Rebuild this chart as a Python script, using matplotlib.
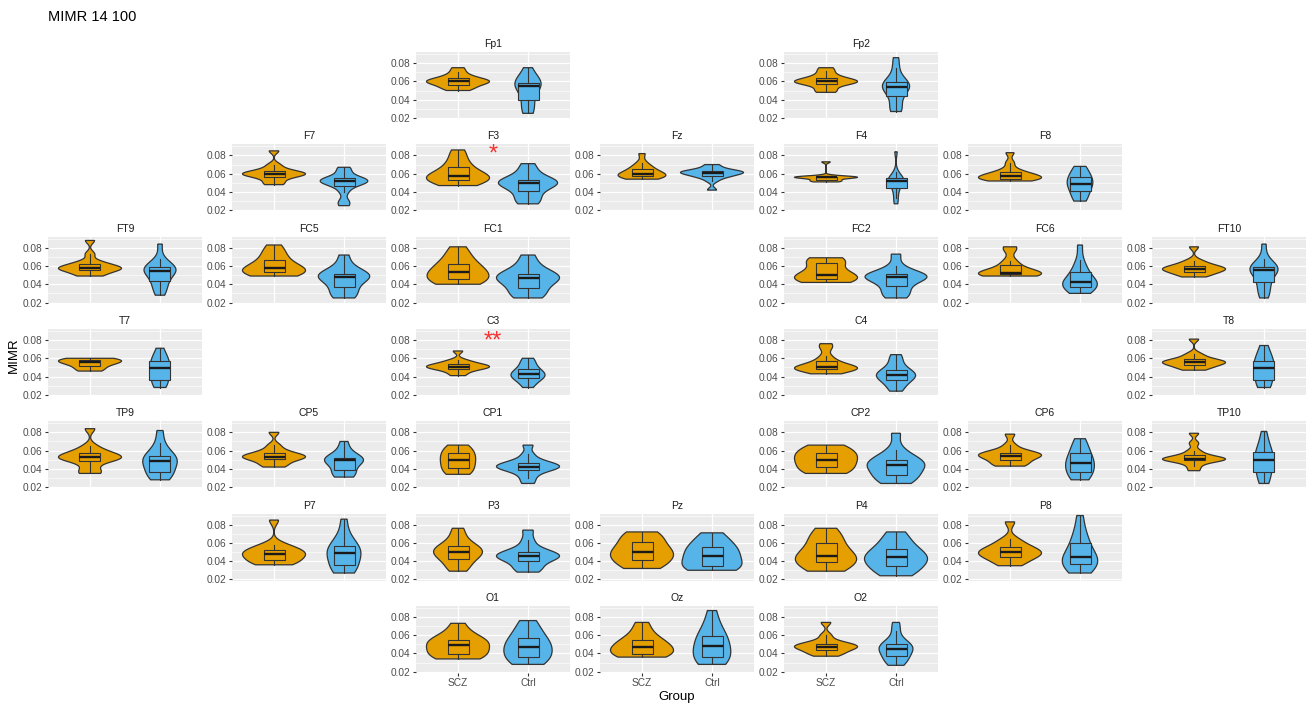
import numpy as np
import matplotlib
matplotlib.use('Agg')
import matplotlib.pyplot as plt

plt.rcParams['font.family'] = ['Liberation Sans', 'DejaVu Sans']

groups = ['SCZ', 'Ctrl']
colors = ['#E69F00', '#56B4E9']

# MIMR per subject, one list per channel and group
Fp1_scz = [0.050, 0.052, 0.054, 0.056, 0.058, 0.059, 0.060, 0.060, 0.061, 0.062, 0.064, 0.066, 0.070, 0.075]
Fp1_ctrl = [0.025, 0.027, 0.033, 0.038, 0.045, 0.053, 0.055, 0.056, 0.057, 0.058, 0.059, 0.062, 0.068, 0.075]
Fp2_scz = [0.048, 0.050, 0.054, 0.057, 0.058, 0.059, 0.060, 0.060, 0.061, 0.063, 0.064, 0.067, 0.071, 0.075]
Fp2_ctrl = [0.027, 0.029, 0.035, 0.043, 0.047, 0.051, 0.053, 0.055, 0.056, 0.058, 0.060, 0.065, 0.075, 0.086]
F7_scz = [0.048, 0.050, 0.054, 0.056, 0.058, 0.059, 0.059, 0.060, 0.061, 0.062, 0.063, 0.066, 0.070, 0.085]
F7_ctrl = [0.025, 0.030, 0.040, 0.046, 0.048, 0.050, 0.051, 0.052, 0.053, 0.054, 0.055, 0.058, 0.063, 0.067]
F3_scz = [0.047, 0.049, 0.051, 0.053, 0.055, 0.056, 0.057, 0.058, 0.060, 0.064, 0.068, 0.072, 0.079, 0.086]
F3_ctrl = [0.027, 0.030, 0.035, 0.040, 0.044, 0.047, 0.049, 0.050, 0.051, 0.052, 0.054, 0.058, 0.064, 0.071]
Fz_scz = [0.054, 0.055, 0.056, 0.057, 0.058, 0.059, 0.059, 0.060, 0.062, 0.064, 0.066, 0.068, 0.072, 0.082]
Fz_ctrl = [0.042, 0.052, 0.056, 0.057, 0.058, 0.060, 0.061, 0.061, 0.062, 0.062, 0.063, 0.064, 0.067, 0.070]
F4_scz = [0.051, 0.052, 0.052, 0.053, 0.055, 0.056, 0.056, 0.056, 0.056, 0.056, 0.057, 0.057, 0.073]
F4_ctrl = [0.027, 0.033, 0.040, 0.044, 0.048, 0.051, 0.052, 0.053, 0.054, 0.055, 0.056, 0.062, 0.084]
F8_scz = [0.052, 0.053, 0.054, 0.054, 0.055, 0.056, 0.057, 0.058, 0.059, 0.060, 0.062, 0.065, 0.072, 0.083]
F8_ctrl = [0.030, 0.032, 0.036, 0.040, 0.044, 0.047, 0.048, 0.050, 0.053, 0.055, 0.057, 0.061, 0.065, 0.068]
FT9_scz = [0.049, 0.050, 0.053, 0.055, 0.056, 0.057, 0.058, 0.058, 0.059, 0.061, 0.063, 0.065, 0.073, 0.088]
FT9_ctrl = [0.028, 0.033, 0.038, 0.042, 0.046, 0.050, 0.053, 0.054, 0.056, 0.057, 0.058, 0.060, 0.062, 0.068, 0.084]
FC5_scz = [0.049, 0.050, 0.051, 0.053, 0.054, 0.056, 0.057, 0.058, 0.060, 0.064, 0.068, 0.072, 0.077, 0.083]
FC5_ctrl = [0.025, 0.027, 0.031, 0.036, 0.040, 0.045, 0.047, 0.048, 0.050, 0.051, 0.052, 0.054, 0.062, 0.072]
FC1_scz = [0.040, 0.041, 0.043, 0.045, 0.047, 0.050, 0.052, 0.054, 0.057, 0.060, 0.063, 0.068, 0.074, 0.081]
FC1_ctrl = [0.025, 0.027, 0.031, 0.035, 0.040, 0.044, 0.046, 0.047, 0.048, 0.050, 0.052, 0.056, 0.063, 0.072]
FC2_scz = [0.042, 0.043, 0.044, 0.045, 0.047, 0.049, 0.050, 0.051, 0.054, 0.060, 0.064, 0.066, 0.068, 0.069]
FC2_ctrl = [0.025, 0.028, 0.032, 0.037, 0.041, 0.045, 0.047, 0.048, 0.049, 0.050, 0.051, 0.052, 0.060, 0.073]
FC6_scz = [0.049, 0.050, 0.050, 0.051, 0.051, 0.052, 0.052, 0.053, 0.055, 0.058, 0.062, 0.066, 0.078, 0.081]
FC6_ctrl = [0.030, 0.032, 0.035, 0.037, 0.039, 0.041, 0.042, 0.043, 0.045, 0.050, 0.055, 0.058, 0.067, 0.083]
FT10_scz = [0.048, 0.050, 0.052, 0.053, 0.055, 0.056, 0.057, 0.057, 0.058, 0.059, 0.061, 0.063, 0.066, 0.081]
FT10_ctrl = [0.025, 0.030, 0.036, 0.041, 0.046, 0.052, 0.055, 0.056, 0.057, 0.058, 0.059, 0.061, 0.068, 0.084]
T7_scz = [0.046, 0.047, 0.050, 0.052, 0.054, 0.055, 0.056, 0.057, 0.058, 0.059, 0.059, 0.060]
T7_ctrl = [0.028, 0.031, 0.034, 0.036, 0.038, 0.043, 0.048, 0.050, 0.053, 0.055, 0.057, 0.060, 0.065, 0.071]
C3_scz = [0.041, 0.044, 0.047, 0.048, 0.049, 0.050, 0.051, 0.051, 0.052, 0.053, 0.054, 0.056, 0.058, 0.068]
C3_ctrl = [0.028, 0.032, 0.036, 0.038, 0.039, 0.041, 0.042, 0.043, 0.045, 0.047, 0.049, 0.053, 0.057, 0.060]
C4_scz = [0.043, 0.045, 0.047, 0.048, 0.049, 0.049, 0.050, 0.051, 0.052, 0.055, 0.057, 0.062, 0.071, 0.076]
C4_ctrl = [0.024, 0.028, 0.033, 0.035, 0.038, 0.040, 0.041, 0.042, 0.044, 0.046, 0.048, 0.053, 0.059, 0.064]
T8_scz = [0.047, 0.049, 0.051, 0.052, 0.054, 0.055, 0.055, 0.056, 0.057, 0.058, 0.059, 0.062, 0.065, 0.081]
T8_ctrl = [0.028, 0.030, 0.033, 0.035, 0.040, 0.046, 0.049, 0.050, 0.054, 0.056, 0.058, 0.063, 0.069, 0.074]
TP9_scz = [0.035, 0.036, 0.042, 0.048, 0.050, 0.051, 0.052, 0.053, 0.054, 0.056, 0.058, 0.060, 0.065, 0.084]
TP9_ctrl = [0.028, 0.031, 0.034, 0.036, 0.040, 0.045, 0.048, 0.049, 0.051, 0.053, 0.055, 0.060, 0.068, 0.082]
CP5_scz = [0.042, 0.044, 0.047, 0.050, 0.051, 0.052, 0.053, 0.054, 0.055, 0.056, 0.058, 0.061, 0.066, 0.080]
CP5_ctrl = [0.031, 0.033, 0.035, 0.037, 0.043, 0.047, 0.049, 0.050, 0.050, 0.051, 0.052, 0.055, 0.062, 0.070]
CP1_scz = [0.034, 0.035, 0.037, 0.040, 0.043, 0.046, 0.049, 0.050, 0.053, 0.056, 0.058, 0.061, 0.064, 0.066]
CP1_ctrl = [0.024, 0.030, 0.035, 0.038, 0.040, 0.041, 0.042, 0.043, 0.044, 0.046, 0.047, 0.050, 0.056, 0.066]
CP2_scz = [0.035, 0.036, 0.038, 0.041, 0.044, 0.047, 0.049, 0.051, 0.054, 0.056, 0.058, 0.061, 0.064, 0.066]
CP2_ctrl = [0.024, 0.027, 0.030, 0.032, 0.036, 0.040, 0.043, 0.045, 0.046, 0.048, 0.050, 0.054, 0.061, 0.079]
CP6_scz = [0.043, 0.044, 0.046, 0.049, 0.051, 0.053, 0.054, 0.055, 0.056, 0.057, 0.058, 0.060, 0.066, 0.078]
CP6_ctrl = [0.028, 0.030, 0.033, 0.036, 0.040, 0.043, 0.046, 0.047, 0.050, 0.054, 0.058, 0.062, 0.068, 0.073]
TP10_scz = [0.038, 0.043, 0.047, 0.049, 0.050, 0.050, 0.051, 0.051, 0.052, 0.054, 0.056, 0.060, 0.068, 0.079]
TP10_ctrl = [0.024, 0.028, 0.032, 0.035, 0.040, 0.046, 0.049, 0.051, 0.054, 0.057, 0.059, 0.064, 0.072, 0.081]
P7_scz = [0.036, 0.037, 0.039, 0.041, 0.043, 0.046, 0.047, 0.048, 0.050, 0.051, 0.053, 0.056, 0.058, 0.085]
P7_ctrl = [0.027, 0.029, 0.032, 0.034, 0.040, 0.045, 0.048, 0.049, 0.052, 0.055, 0.057, 0.062, 0.070, 0.086]
P3_scz = [0.029, 0.033, 0.038, 0.042, 0.045, 0.047, 0.049, 0.051, 0.053, 0.055, 0.057, 0.061, 0.068, 0.076]
P3_ctrl = [0.028, 0.031, 0.035, 0.039, 0.042, 0.044, 0.045, 0.046, 0.047, 0.049, 0.051, 0.055, 0.063, 0.074]
Pz_scz = [0.032, 0.034, 0.037, 0.041, 0.044, 0.047, 0.049, 0.050, 0.053, 0.057, 0.062, 0.066, 0.069, 0.072]
Pz_ctrl = [0.030, 0.031, 0.032, 0.034, 0.036, 0.040, 0.045, 0.047, 0.050, 0.053, 0.056, 0.060, 0.065, 0.071]
P4_scz = [0.029, 0.031, 0.035, 0.038, 0.041, 0.043, 0.045, 0.046, 0.050, 0.055, 0.061, 0.065, 0.070, 0.076]
P4_ctrl = [0.024, 0.027, 0.031, 0.034, 0.038, 0.041, 0.043, 0.045, 0.047, 0.050, 0.054, 0.059, 0.065, 0.072]
P8_scz = [0.035, 0.038, 0.042, 0.044, 0.046, 0.048, 0.049, 0.050, 0.052, 0.054, 0.056, 0.060, 0.064, 0.083]
P8_ctrl = [0.027, 0.030, 0.034, 0.036, 0.039, 0.041, 0.043, 0.045, 0.049, 0.055, 0.061, 0.066, 0.075, 0.090]
O1_scz = [0.034, 0.035, 0.037, 0.039, 0.041, 0.044, 0.048, 0.050, 0.052, 0.054, 0.055, 0.058, 0.064, 0.073]
O1_ctrl = [0.028, 0.030, 0.033, 0.035, 0.039, 0.043, 0.046, 0.048, 0.051, 0.055, 0.058, 0.063, 0.070, 0.076]
Oz_scz = [0.036, 0.037, 0.038, 0.039, 0.041, 0.044, 0.046, 0.048, 0.050, 0.053, 0.055, 0.059, 0.066, 0.074]
Oz_ctrl = [0.028, 0.030, 0.032, 0.035, 0.038, 0.042, 0.046, 0.050, 0.054, 0.058, 0.060, 0.066, 0.075, 0.087]
O2_scz = [0.037, 0.039, 0.041, 0.043, 0.045, 0.046, 0.047, 0.048, 0.049, 0.050, 0.051, 0.054, 0.060, 0.074]
O2_ctrl = [0.027, 0.030, 0.033, 0.036, 0.039, 0.042, 0.044, 0.046, 0.048, 0.049, 0.051, 0.055, 0.065, 0.074]

data = {
    'Fp1': (Fp1_scz, Fp1_ctrl), 'Fp2': (Fp2_scz, Fp2_ctrl),
    'F7': (F7_scz, F7_ctrl), 'F3': (F3_scz, F3_ctrl), 'Fz': (Fz_scz, Fz_ctrl),
    'F4': (F4_scz, F4_ctrl), 'F8': (F8_scz, F8_ctrl),
    'FT9': (FT9_scz, FT9_ctrl), 'FC5': (FC5_scz, FC5_ctrl), 'FC1': (FC1_scz, FC1_ctrl),
    'FC2': (FC2_scz, FC2_ctrl), 'FC6': (FC6_scz, FC6_ctrl), 'FT10': (FT10_scz, FT10_ctrl),
    'T7': (T7_scz, T7_ctrl), 'C3': (C3_scz, C3_ctrl), 'C4': (C4_scz, C4_ctrl), 'T8': (T8_scz, T8_ctrl),
    'TP9': (TP9_scz, TP9_ctrl), 'CP5': (CP5_scz, CP5_ctrl), 'CP1': (CP1_scz, CP1_ctrl),
    'CP2': (CP2_scz, CP2_ctrl), 'CP6': (CP6_scz, CP6_ctrl), 'TP10': (TP10_scz, TP10_ctrl),
    'P7': (P7_scz, P7_ctrl), 'P3': (P3_scz, P3_ctrl), 'Pz': (Pz_scz, Pz_ctrl),
    'P4': (P4_scz, P4_ctrl), 'P8': (P8_scz, P8_ctrl),
    'O1': (O1_scz, O1_ctrl), 'Oz': (Oz_scz, Oz_ctrl), 'O2': (O2_scz, O2_ctrl),
}

# significance marks (SCZ vs Ctrl)
signif = {'F3': ('*', 0.0815), 'C3': ('**', 0.0785)}

# electrode montage, one row per grid row
montage = [
    [None, None, 'Fp1', None, 'Fp2', None, None],
    [None, 'F7', 'F3', 'Fz', 'F4', 'F8', None],
    ['FT9', 'FC5', 'FC1', None, 'FC2', 'FC6', 'FT10'],
    ['T7', None, 'C3', None, 'C4', None, 'T8'],
    ['TP9', 'CP5', 'CP1', None, 'CP2', 'CP6', 'TP10'],
    [None, 'P7', 'P3', 'Pz', 'P4', 'P8', None],
    [None, None, 'O1', 'Oz', 'O2', None, None],
]


def bw_nrd0(x, adjust=1.15):
    x = np.asarray(x)
    sd = np.std(x, ddof=1)
    iqr = np.subtract(*np.percentile(x, [75, 25]))
    lo = min(sd, iqr / 1.34) if iqr > 0 else sd
    return adjust * 0.9 * lo * len(x) ** -0.2


def kde(x, grid):
    x = np.asarray(x)
    bw = bw_nrd0(x)
    z = (grid[:, None] - x[None, :]) / bw
    return np.exp(-0.5 * z ** 2).sum(axis=1) / (len(x) * bw * np.sqrt(2 * np.pi))


W, H, DPI = 1307, 703, 100
fig = plt.figure(figsize=(W / DPI, H / DPI), dpi=DPI)

px_left, px_top = 48, 52
col_step, row_step = 184, 92.3
pw, ph = 154, 67

for r, row in enumerate(montage):
    for c, ch in enumerate(row):
        if ch is None:
            continue
        x0 = px_left + c * col_step
        y0 = px_top + r * row_step
        ax = fig.add_axes([x0 / W, 1 - (y0 + ph) / H, pw / W, ph / H])
        ax.set_facecolor('#EBEBEB')
        for s in ax.spines.values():
            s.set_visible(False)

        vals = data[ch]
        grids = [np.linspace(min(v), max(v), 300) for v in vals]
        dens = [kde(v, g) for v, g in zip(vals, grids)]
        dmax = max(d.max() for d in dens)

        # grid lines
        for yy in [0.03, 0.05, 0.07, 0.09]:
            ax.axhline(yy, color='white', lw=0.45, zorder=0)
        for yy in [0.02, 0.04, 0.06, 0.08]:
            ax.axhline(yy, color='white', lw=0.9, zorder=0)
        for xx in [1, 2]:
            ax.axvline(xx, color='white', lw=0.9, zorder=0)

        for i, (v, g, d) in enumerate(zip(vals, grids, dens)):
            pos = i + 1
            hw = 0.45 * d / dmax
            xs = np.concatenate([pos - hw, (pos + hw)[::-1]])
            ys = np.concatenate([g, g[::-1]])
            ax.fill(xs, ys, facecolor=colors[i], edgecolor='#333333', lw=0.9, zorder=2)

        bp = ax.boxplot(list(vals), positions=[1, 2], widths=0.3, patch_artist=True,
                        showfliers=False, showcaps=False, whis=1.5, zorder=3,
                        medianprops=dict(color='#1A1A1A', lw=1.7),
                        whiskerprops=dict(color='#333333', lw=0.8),
                        boxprops=dict(edgecolor='#333333', lw=0.8))
        for patch, col in zip(bp['boxes'], colors):
            patch.set_facecolor(col)

        if ch in signif:
            mark, yy = signif[ch]
            ax.text(1.5, yy, mark, color='#F8312F', fontsize=17, ha='center', va='center',
                    zorder=4)

        ax.set_xlim(0.4, 2.6)
        ax.set_ylim(0.0188, 0.0922)
        ax.set_yticks([0.02, 0.04, 0.06, 0.08])
        ax.set_yticklabels(['0.02', '0.04', '0.06', '0.08'])
        ax.tick_params(axis='y', length=2.5, width=0.8, color='#333333',
                       labelcolor='#4D4D4D', labelsize=7.3, pad=1.5)
        ax.set_xticks([1, 2])
        if r == len(montage) - 1:
            ax.set_xticklabels(groups)
            ax.tick_params(axis='x', length=2.5, width=0.8, color='#333333',
                           labelcolor='#4D4D4D', labelsize=7.3, pad=1.5)
        else:
            ax.set_xticklabels([])
            ax.tick_params(axis='x', length=0)
        ax.set_title(ch, fontsize=7.5, color='#1A1A1A', pad=3.5)

fig.text(48 / W, 1 - 17 / H, 'MIMR 14 100', fontsize=10.5, ha='left', va='center')
fig.text(14 / W, 1 - 355 / H, 'MIMR', fontsize=9.5, rotation=90, ha='center', va='center')
fig.text(677 / W, 1 - 697 / H, 'Group', fontsize=9.5, ha='center', va='center')

fig.savefig('out.png', dpi=DPI)
